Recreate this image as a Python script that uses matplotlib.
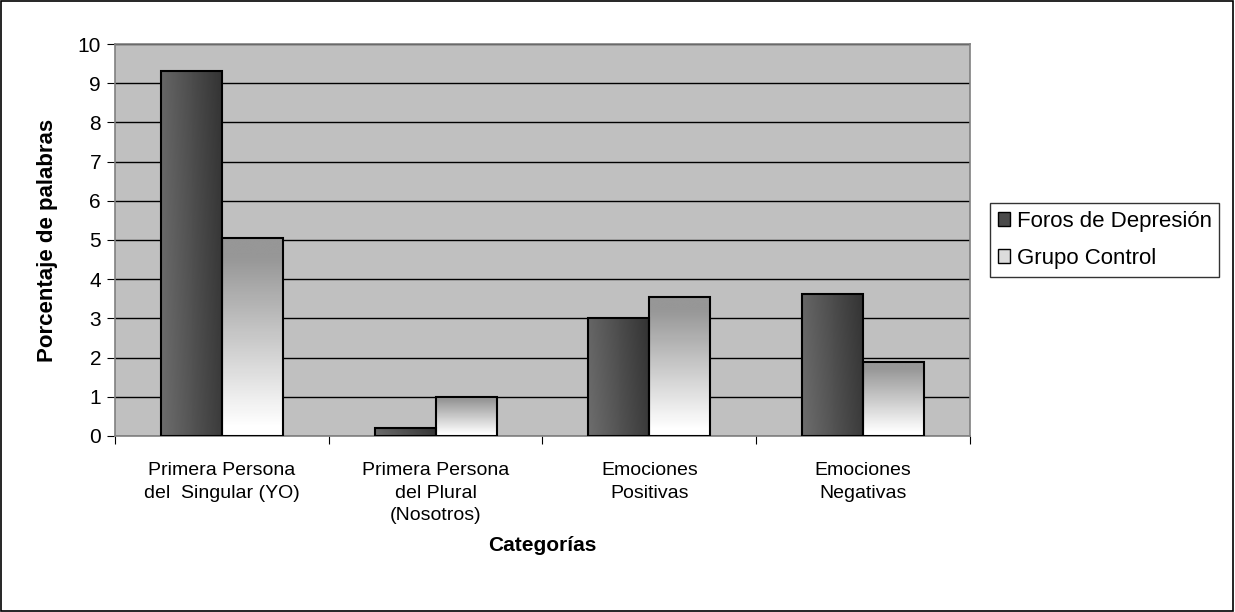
import numpy as np
import matplotlib.pyplot as plt
from matplotlib.patches import Patch, Rectangle

plt.rcParams['font.family'] = ['Liberation Sans', 'DejaVu Sans']

# Datos
categorias = ["Primera Persona\ndel  Singular (YO)",
              "Primera Persona\ndel Plural\n(Nosotros)",
              "Emociones\nPositivas",
              "Emociones\nNegativas"]
foros = [9.3, 0.2, 3.0, 3.62]
control = [5.05, 1.0, 3.55, 1.9]
series = ["Foros de Depresión", "Grupo Control"]

fig = plt.figure(figsize=(12.35, 6.12), dpi=100)
ax = fig.add_axes([0.0931, 0.2876, 0.6923, 0.6405])
ax.set_facecolor("#C0C0C0")

x = np.arange(len(categorias))
ancho = 1 / 3.5

# degradados
g_x = np.linspace(0, 1, 64)
g_y = np.linspace(0, 1, 64)
GX, GY = np.meshgrid(g_x, g_y)
oscuro = 0.40 - 0.20 * GX + 0.03 * GY      # claro a la izquierda, oscuro a la derecha
claro = 0.59 + 0.41 * np.clip(GY * 1.15 - 0.1, 0, 1)   # gris arriba, blanco abajo

barras1 = ax.bar(x - ancho / 2, foros, ancho, facecolor="none",
                 edgecolor="black", linewidth=1.5, zorder=3)
barras2 = ax.bar(x + ancho / 2, control, ancho, facecolor="none",
                 edgecolor="black", linewidth=1.5, zorder=3)

for barras, grad in ((barras1, oscuro), (barras2, claro)):
    for b in barras:
        x0, y0 = b.get_x(), b.get_y()
        w, h = b.get_width(), b.get_height()
        im = ax.imshow(grad, cmap="gray", vmin=0, vmax=1, aspect="auto",
                       origin="upper", extent=(x0, x0 + w, y0, y0 + h),
                       zorder=2, interpolation="bilinear")
        im.set_clip_path(b)

ax.set_xlim(-0.5, len(categorias) - 0.5)
ax.set_ylim(0, 10)
ax.set_yticks(range(0, 11))
ax.yaxis.grid(True, color="black", linewidth=1)
ax.set_axisbelow(True)

ax.set_xticks(np.arange(-0.5, len(categorias), 1.0))
ax.set_xticklabels([])
ax.set_xticks(x, minor=True)
ax.set_xticklabels(categorias, minor=True, fontsize=14, linespacing=1.4)
ax.tick_params(axis="x", which="minor", length=0, pad=19)
ax.tick_params(axis="x", which="major", length=6, direction="out", color="black")
ax.tick_params(axis="y", length=6, direction="out", labelsize=15, color="black", pad=4)

for s in ax.spines.values():
    s.set_color("#808080")
    s.set_linewidth(1.2)

ax.set_ylabel("Porcentaje de palabras", fontsize=16, fontweight="bold", labelpad=14)
ax.set_xlabel("Categorías", fontsize=15, fontweight="bold", labelpad=9)

handles = [Patch(facecolor="#4a4a4a", edgecolor="black", label=series[0]),
           Patch(facecolor="#dcdcdc", edgecolor="black", label=series[1])]
leg = fig.legend(handles=handles, loc="center left", bbox_to_anchor=(0.8016, 0.608),
                 fontsize=16, frameon=True, fancybox=False, handlelength=0.55,
                 handleheight=0.55, handletextpad=0.3, borderpad=0.35,
                 borderaxespad=0, labelspacing=0.72)
leg.get_frame().set_edgecolor("black")
leg.get_frame().set_linewidth(1)

fig.patches.append(Rectangle((0.001, 0.001), 0.997, 0.997, transform=fig.transFigure,
                             fill=False, edgecolor="black", linewidth=1.2))

fig.savefig("out.png", dpi=100)
